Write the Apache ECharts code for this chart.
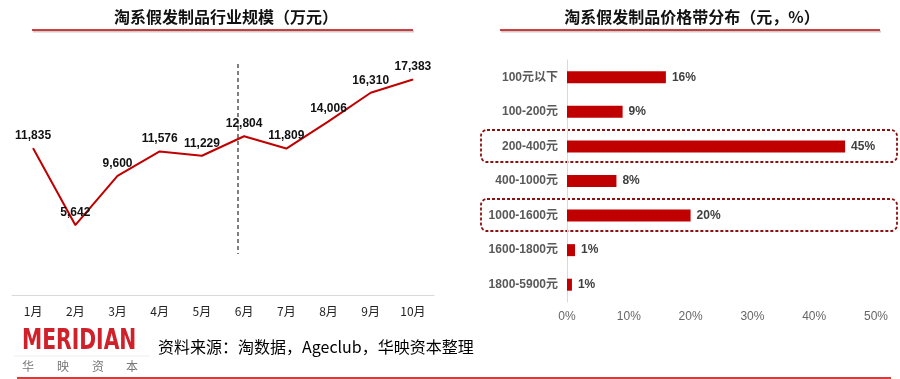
<!DOCTYPE html>
<html>
<head>
<meta charset="utf-8">
<script src="https://cdn.jsdelivr.net/npm/echarts@6/dist/echarts.min.js"></script>
<style>
html,body{margin:0;padding:0;background:#fff;}
#c{width:900px;height:379px;}
</style>
</head>
<body>
<div id="c"></div>
<script>
// ---- data ----
var months = ['1月','2月','3月','4月','5月','6月','7月','8月','9月','10月'];
var scaleValues = [11835, 5642, 9600, 11576, 11229, 12804, 11809, 14006, 16310, 17383];
var priceBands = ['100元以下','100-200元','200-400元','400-1000元','1000-1600元','1600-1800元','1800-5900元'];
var priceShares = [16, 9, 45, 8, 20, 1.3, 0.8];
var priceLabels = ['16%','9%','45%','8%','20%','1%','1%'];
var pctTicks = [0, 10, 20, 30, 40, 50];

var FONT = '"Liberation Sans", "Noto Sans CJK SC", sans-serif';
var CJK = '"Noto Sans CJK SC", "Liberation Sans", sans-serif';
var RED = '#C00000';

var chart = echarts.init(document.getElementById('c'));
var option = {
  backgroundColor: '#fff',
  animation: false,
  title: [
    {text: '淘系假发制品行业规模（万元）', left: 221, top: 4, textAlign: 'center',
     textStyle: {fontFamily: CJK, fontSize: 16, fontWeight: 'bold', color: '#111'}},
    {text: '淘系假发制品价格带分布（元，%）', left: 687, top: 4, textAlign: 'center',
     textStyle: {fontFamily: CJK, fontSize: 16, fontWeight: 'bold', color: '#111'}}
  ],
  grid: [
    {left: 12, right: 466, top: 47, bottom: 84},
    {left: 567, right: 24, top: 60, bottom: 77}
  ],
  xAxis: [
    {type: 'category', gridIndex: 0, data: months, boundaryGap: true,
     axisLine: {lineStyle: {color: '#d9d9d9', width: 1}}, axisTick: {show: false},
     axisLabel: {fontFamily: CJK, fontSize: 12, color: '#222', margin: 10}},
    {type: 'value', gridIndex: 1, min: pctTicks[0], max: pctTicks[pctTicks.length-1], interval: 10,
     axisLine: {show: false}, axisTick: {show: false}, splitLine: {show: false},
     axisLabel: {formatter: '{value}%', fontFamily: FONT, fontSize: 12, color: '#666', margin: 9}}
  ],
  yAxis: [
    {type: 'value', gridIndex: 0, min: 0, max: 20000, show: false},
    {type: 'category', gridIndex: 1, data: priceBands, inverse: true,
     axisLine: {lineStyle: {color: '#d9d9d9', width: 1}}, axisTick: {show: false},
     axisLabel: {fontFamily: FONT, fontSize: 12, fontWeight: 'bold', color: '#595959', margin: 9}}
  ],
  series: [
    {type: 'line', xAxisIndex: 0, yAxisIndex: 0, data: scaleValues,
     symbol: 'circle', symbolSize: 1, showSymbol: true,
     lineStyle: {color: RED, width: 2}, itemStyle: {color: RED},
     label: {show: true, position: 'top', distance: 6, fontFamily: FONT, fontSize: 12, fontWeight: 'bold', color: '#111',
             formatter: function(p){ return p.value.toLocaleString('en-US'); }}},
    {type: 'bar', xAxisIndex: 1, yAxisIndex: 1, data: priceShares, barWidth: 12,
     itemStyle: {color: RED},
     label: {show: true, position: 'right', distance: 6, fontFamily: FONT, fontSize: 12, fontWeight: 'bold', color: '#404040',
             formatter: function(p){ return priceLabels[p.dataIndex]; }}}
  ],
  graphic: [
    // title underlines
    {type: 'line', shape: {x1: 33, y1: 31.5, x2: 414, y2: 31.5}, style: {stroke: '#ccc', lineWidth: 2}, z: 1},
    {type: 'line', shape: {x1: 32, y1: 30, x2: 413, y2: 30}, style: {stroke: RED, lineWidth: 1.5}, z: 2},
    {type: 'line', shape: {x1: 501, y1: 31.5, x2: 881, y2: 31.5}, style: {stroke: '#ccc', lineWidth: 2}, z: 1},
    {type: 'line', shape: {x1: 500, y1: 30, x2: 880, y2: 30}, style: {stroke: RED, lineWidth: 1.5}, z: 2},
    // dashed divider
    {type: 'line', shape: {x1: 238, y1: 64, x2: 238, y2: 254}, style: {stroke: '#555', lineWidth: 1.5, lineDash: [4, 3]}},
    // highlight boxes
    {type: 'rect', shape: {x: 481, y: 130, width: 416, height: 32, r: 6},
     style: {fill: 'none', stroke: '#8B1010', lineWidth: 1.8, lineDash: [3, 2]}},
    {type: 'rect', shape: {x: 481, y: 199, width: 416, height: 32, r: 6},
     style: {fill: 'none', stroke: '#8B1010', lineWidth: 1.8, lineDash: [3, 2]}},
    // logo
    {type: 'text', x: 22, y: 327, scaleX: 0.70, scaleY: 1,
     style: {text: 'MERIDIAN', fontFamily: '"DejaVu Sans"', fontSize: 29, fontWeight: 'bold', fill: '#D0202A'}},
    {type: 'line', shape: {x1: 14, y1: 356, x2: 150, y2: 356}, style: {stroke: '#eee', lineWidth: 1}},
    {type: 'text', x: 22, y: 360, style: {text: '华', fontFamily: CJK, fontSize: 12, fill: '#777'}},
    {type: 'text', x: 57, y: 360, style: {text: '映', fontFamily: CJK, fontSize: 12, fill: '#777'}},
    {type: 'text', x: 92, y: 360, style: {text: '资', fontFamily: CJK, fontSize: 12, fill: '#777'}},
    {type: 'text', x: 126, y: 360, style: {text: '本', fontFamily: CJK, fontSize: 12, fill: '#777'}},
    // source
    {type: 'text', x: 158, y: 339, style: {text: '资料来源：淘数据，Ageclub，华映资本整理', fontFamily: CJK, fontSize: 16, fill: '#000'}},
    // bottom red line
    {type: 'line', shape: {x1: 17, y1: 378, x2: 891, y2: 378}, style: {stroke: RED, lineWidth: 1.5}}
  ]
};
chart.setOption(option);
</script>
</body>
</html>
